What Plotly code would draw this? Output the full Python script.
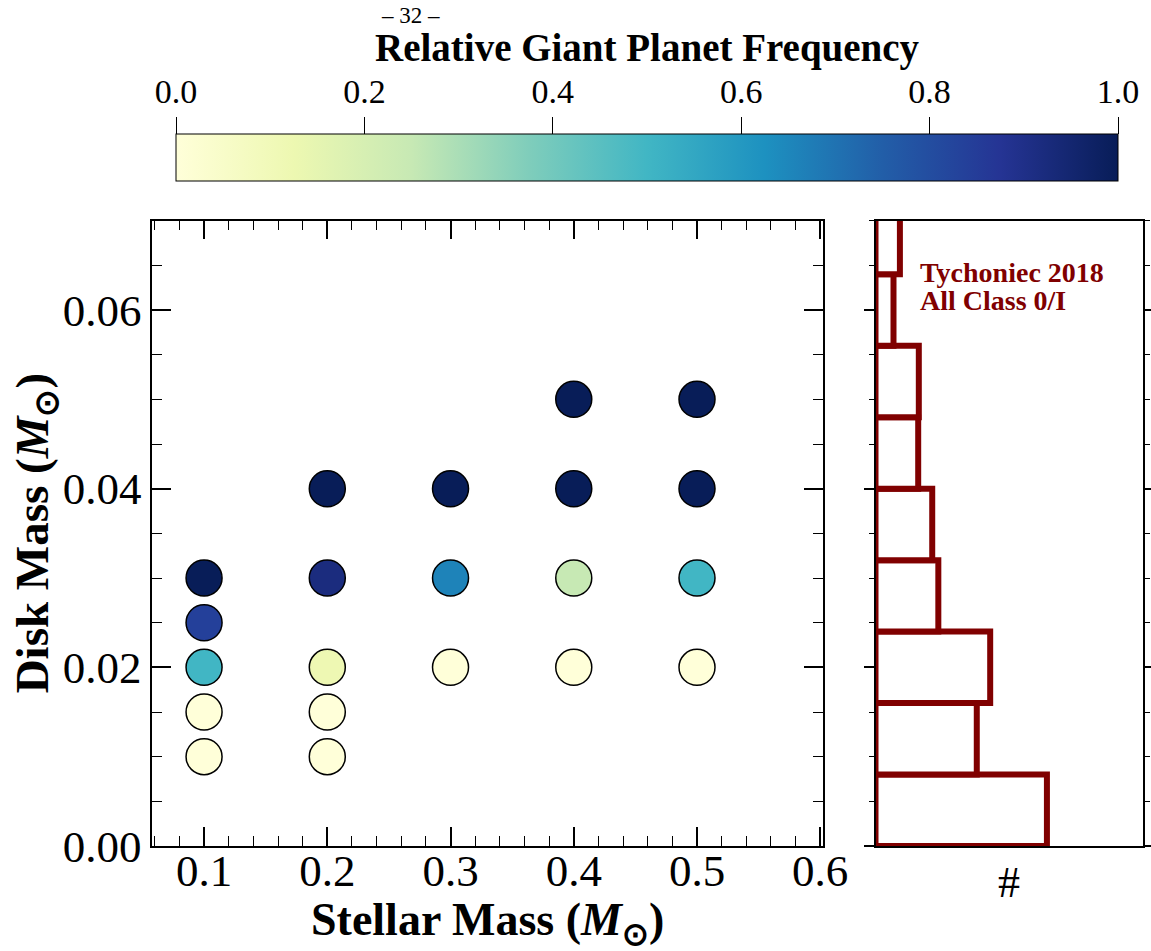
import numpy as np
import plotly.graph_objects as go

# ---- data ----
stellar_mass = [0.1, 0.1, 0.1, 0.1, 0.1,
                0.2, 0.2, 0.2, 0.2, 0.2,
                0.3, 0.3, 0.3,
                0.4, 0.4, 0.4, 0.4,
                0.5, 0.5, 0.5, 0.5]
disk_mass = [0.03, 0.025, 0.02, 0.015, 0.01,
             0.04, 0.03, 0.02, 0.015, 0.01,
             0.04, 0.03, 0.02,
             0.05, 0.04, 0.03, 0.02,
             0.05, 0.04, 0.03, 0.02]
frequency = [1.0, 0.84, 0.5, 0.0, 0.0,
             1.0, 0.92, 0.12, 0.0, 0.0,
             1.0, 0.66, 0.0,
             1.0, 1.0, 0.25, 0.0,
             1.0, 1.0, 0.5, 0.0]

hist_bin_lo = [0.000, 0.008, 0.016, 0.024, 0.032, 0.040, 0.048, 0.056, 0.064]
hist_bin_width = 0.008
hist_counts = [28.1, 16.6, 18.8, 10.3, 9.3, 7.0, 7.1, 2.95, 4.0]

cbar_ticks = [0.0, 0.2, 0.4, 0.6, 0.8, 1.0]

ylgnbu = [[0.0, '#ffffd9'], [0.125, '#edf8b1'], [0.25, '#c7e9b4'],
          [0.375, '#7fcdbb'], [0.5, '#41b6c4'], [0.625, '#1d91c0'],
          [0.75, '#225ea8'], [0.875, '#253494'], [1.0, '#081d58']]

W, H = 1151, 951
FONT = 'Liberation Serif'
MAROON = '#800000'

def px_x(p):
    return p / W

def px_y(p):
    return 1 - p / H

main_x = [px_x(152.3), px_x(822.7)]
hist_x = [px_x(875.5), px_x(1143)]
row_y = [px_y(846), px_y(220.7)]
cb_x = [px_x(176), px_x(1118)]
cb_y = [px_y(182), px_y(135)]

fig = go.Figure()

fig.add_trace(go.Scatter(
    x=stellar_mass, y=disk_mass, mode='markers',
    marker=dict(size=36, color=frequency, colorscale=ylgnbu, cmin=0, cmax=1,
                line=dict(color='black', width=1.5),
                colorbar=dict(orientation='h', x=(cb_x[0] + cb_x[1]) / 2, xanchor='center',
                              y=cb_y[0], yanchor='bottom', len=cb_x[1] - cb_x[0],
                              lenmode='fraction', thickness=(cb_y[1] - cb_y[0]) * H,
                              thicknessmode='pixels', xpad=0, ypad=0,
                              outlinecolor='black', outlinewidth=1,
                              showticklabels=False, ticks='')),
    xaxis='x', yaxis='y', showlegend=False))

centers = [lo + hist_bin_width / 2 for lo in hist_bin_lo]
fig.add_trace(go.Bar(
    y=centers, x=hist_counts, orientation='h', width=hist_bin_width,
    marker=dict(color='white', line=dict(color=MAROON, width=6)),
    xaxis='x2', yaxis='y2', showlegend=False))

# invisible carrier so that the colour-bar tick axis is drawn
fig.add_trace(go.Scatter(
    x=cbar_ticks, y=[0.5] * len(cbar_ticks), mode='markers',
    marker=dict(opacity=0, size=1), hoverinfo='skip',
    xaxis='x3', yaxis='y3', showlegend=False))

axis_common = dict(showline=True, linecolor='black', linewidth=1.5, mirror='ticks',
                   showgrid=False, zeroline=False, tickcolor='black', tickwidth=1.5,
                   automargin=False,
                   tickfont=dict(family=FONT, size=45, color='black'))

fig.update_layout(
    width=W, height=H, margin=dict(l=0, r=0, t=0, b=0, autoexpand=False),
    paper_bgcolor='white', plot_bgcolor='white',
    font=dict(family=FONT, color='black'),
    xaxis=dict(domain=main_x, anchor='y', range=[0.058, 0.602], tick0=0, dtick=0.1,
               tickformat='.1f', ticks='inside', ticklen=19, ticklabelstandoff=-16,
               minor=dict(ticks='inside', ticklen=10, dtick=0.02, tick0=0,
                          tickcolor='black', tickwidth=1.2),
               **axis_common),
    yaxis=dict(domain=row_y, anchor='x', range=[0, 0.07], tick0=0, dtick=0.02,
               tickformat='.2f', ticks='inside', ticklen=19,
               minor=dict(ticks='inside', ticklen=10, dtick=0.005, tick0=0,
                          tickcolor='black', tickwidth=1.2),
               **axis_common),
    xaxis2=dict(domain=hist_x, anchor='y2', range=[0, 43.85], showticklabels=False,
                ticks='', showline=True, linecolor='black', linewidth=1.5, mirror=True,
                showgrid=False, zeroline=False, automargin=False),
    yaxis2=dict(domain=row_y, anchor='x2', range=[0, 0.07], tick0=0, dtick=0.02,
                showticklabels=False, ticks='outside', ticklen=10,
                minor=dict(ticks='outside', ticklen=5, dtick=0.005, tick0=0,
                           tickcolor='black', tickwidth=1.2),
                showline=True, linecolor='black', linewidth=1.5, mirror='ticks',
                showgrid=False, zeroline=False, tickcolor='black', tickwidth=1.5,
                automargin=False),
    xaxis3=dict(domain=cb_x, anchor='y3', range=[0, 1], side='top',
                tickvals=cbar_ticks, tickformat='.1f', ticks='outside', ticklen=17,
                tickcolor='black', tickwidth=1.2, showline=False, showgrid=False,
                zeroline=False, fixedrange=True, automargin=False,
                tickfont=dict(family=FONT, size=34, color='black')),
    yaxis3=dict(domain=cb_y, anchor='x3', range=[0, 1], visible=False, fixedrange=True,
                automargin=False),
)

ann = [
    dict(text='– 32 –', x=px_x(410), y=px_y(15), font=dict(size=23)),
    dict(text='<b>Relative Giant Planet Frequency</b>', x=(cb_x[0] + cb_x[1]) / 2,
         y=px_y(48), font=dict(size=39)),
    dict(text='<b>Stellar Mass (<i>M</i><sub>⊙</sub>)</b>', x=(main_x[0] + main_x[1]) / 2,
         y=px_y(923), font=dict(size=46)),
    dict(text='<b>Disk Mass (<i>M</i><sub>⊙</sub>)</b>', x=px_x(35),
         y=(row_y[0] + row_y[1]) / 2, textangle=-90, font=dict(size=47)),
    dict(text='#', x=(hist_x[0] + hist_x[1]) / 2, y=px_y(882), font=dict(size=44)),
    dict(text='<b>Tychoniec 2018</b>', x=px_x(918), y=px_y(272), xanchor='left',
         font=dict(size=28, color=MAROON)),
    dict(text='<b>All Class 0/I</b>', x=px_x(918), y=px_y(300), xanchor='left',
         font=dict(size=28, color=MAROON)),
]
for a in ann:
    a.setdefault('xanchor', 'center')
    a.update(xref='paper', yref='paper', yanchor='middle', showarrow=False)
    a['font'] = dict(family=FONT, color=a['font'].get('color', 'black'), size=a['font']['size'])
fig.update_layout(annotations=ann)

fig.write_html('out.html')
